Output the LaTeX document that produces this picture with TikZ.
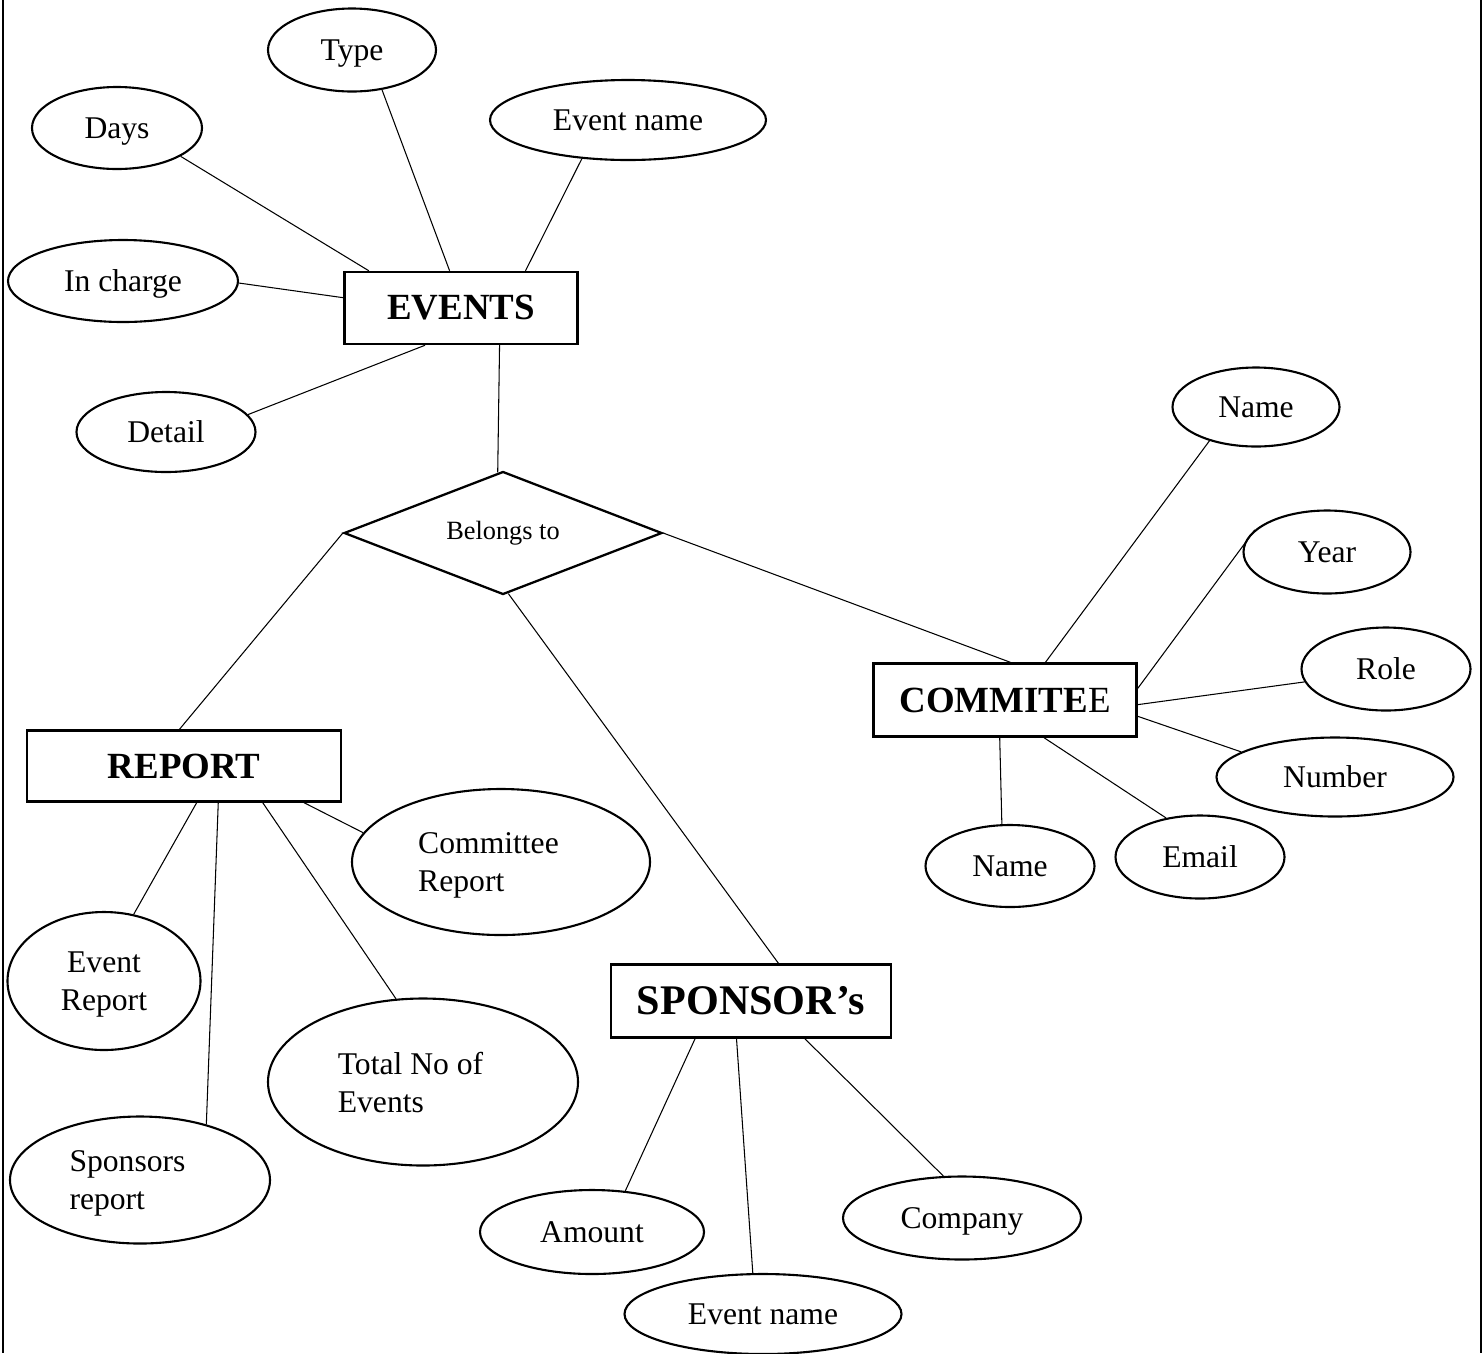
\documentclass[tikz,border=0pt]{standalone}
\usepackage{fontspec}
\setmainfont{Liberation Serif}
\usetikzlibrary{shapes.geometric}

\begin{document}
\begin{tikzpicture}
[x=0.02cm,y=-0.02cm,%
  attribdecorate/.style={shape=ellipse,draw,line width=1.2pt,inner sep=0pt,text depth=0pt,font=\fontsize{18}{21.6}\selectfont},%
  entitydecorate/.style={shape=rectangle,draw,line width=1.4pt,inner sep=0pt,font=\fontsize{21}{25}\selectfont\bfseries},%
  relationdecorate/.style={shape=diamond,aspect=2.6,draw,line width=1.3pt,inner sep=0pt,font=\fontsize{15}{18}\selectfont},%
  linedecorate/.style={-,line width=0.6pt},%
  framedecorate/.style={line width=1.5pt}]
\useasboundingbox (0,0) rectangle (1483,1353);
%% page frame
\draw[framedecorate] (3,0) -- (3,1353) (1481,0) -- (1481,1353);
%% entities and relationship
\node (events) at (461,308) [entitydecorate,minimum width=233*0.02cm,minimum height=72*0.02cm] {EVENTS};
\node (report) at (184,766) [entitydecorate,minimum width=314*0.02cm,minimum height=71*0.02cm] {REPORT};
\node (commitee) at (1005,700) [entitydecorate,minimum width=263*0.02cm,minimum height=73*0.02cm] {COMMITE\mdseries E};
\node (sponsor) at (751,1001) [entitydecorate,minimum width=280*0.02cm,minimum height=73*0.02cm,font=\fontsize{24}{29}\selectfont\bfseries] {SPONSOR’s};
\node (belongs) at (503,533) [relationdecorate,minimum width=318*0.02cm,minimum height=123*0.02cm] {Belongs to};
%% attributes
\foreach \nodename/\x/\y/\w/\h/\alignment/\attrib in {
  type/352/50/168/83/center/Type, days/117/128/170/82/center/Days,
  eventname/628/120/276/80/center/Event name, incharge/123/281/230/82/center/In charge,
  detail/166/432/179/80/center/Detail,
  cname/1256/407/167/79/center/Name, year/1327/552/167/83/center/Year,
  role/1386/669/169/83/center/Role, number/1335/777/237/79/center/Number,
  email/1200/857/169/83/center/Email, cnametwo/1010/866/169/82/center/Name,
  crep/501/862/298/146/left/Committee\hspace*{0.5cm}\\Report, erep/104/981/193/138/center/Event\\Report,
  total/423/1082/310/167/left/Total No of\hspace*{0.5cm}\\Events, srep/140/1180/260/127/left/Sponsors\hspace*{0.5cm}\\report,
  amount/592/1232/224/84/center/Amount, sename/763/1314/277/80/center/Event name,
  company/962/1218/238/83/center/Company} {
  \node (\nodename) at (\x,\y) [attribdecorate,align=\alignment,minimum width=\w*0.02cm,minimum height=\h*0.02cm] {\attrib};
}
%% edges or lines
\path
\foreach \startnode/\startangle/\endnode/\endangle in {
  type/-53/events/107, days/-24/events/158, eventname/220/events/30,
  incharge/-1/events/175, detail/12/events/226, events/-44/belongs/95,
  belongs/180/report/97, belongs/0/commitee/82, belongs/-85/sponsor/54,
  cname/216/commitee/43, year/163/commitee/5, role/189/commitee/-2,
  number/165/commitee/-7, email/131/commitee/-44, cnametwo/101/commitee/-98,
  report/-71/erep/66, report/-47/srep/40, report/-25/total/108, report/-17/crep/168,
  sponsor/214/amount/51, sponsor/249/sename/104, sponsor/-35/company/114} {
  (\startnode.\startangle) edge[linedecorate] (\endnode.\endangle)
};
\end{tikzpicture}
\end{document}
